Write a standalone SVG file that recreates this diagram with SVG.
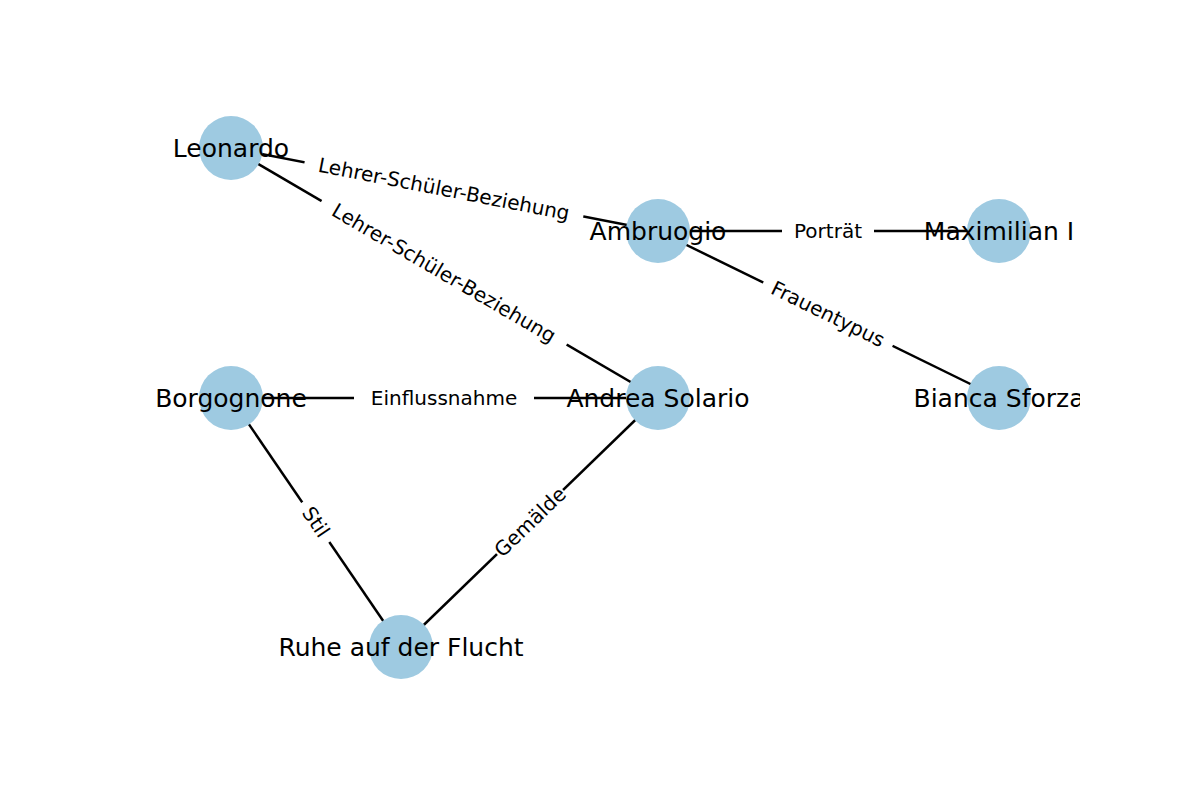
<svg xmlns="http://www.w3.org/2000/svg" width="1200" height="800" viewBox="0 0 1200 800">
<style>
.e{stroke:#000;stroke-width:2.5;fill:none}
.n{fill:#9ecae1}
.nl{font-family:"DejaVu Sans",sans-serif;font-size:25px;text-anchor:middle;dominant-baseline:central;fill:#000}
.el{font-family:"DejaVu Sans",sans-serif;font-size:20px;text-anchor:middle;dominant-baseline:central;fill:#000}
.bg{fill:#fff}
</style>
<defs><clipPath id="c"><rect x="0" y="0" width="1080" height="800"/></clipPath></defs>
<rect width="1200" height="800" fill="#fff"/>
<g id="connectors">
<line class="e" x1="231" y1="148" x2="658" y2="231"/>
<line class="e" x1="231" y1="148" x2="658" y2="398"/>
<line class="e" x1="658" y1="231" x2="999" y2="231"/>
<line class="e" x1="658" y1="231" x2="999" y2="398"/>
<line class="e" x1="231" y1="398" x2="658" y2="398"/>
<line class="e" x1="231" y1="398" x2="401" y2="647"/>
<line class="e" x1="658" y1="398" x2="401" y2="647"/>
<g transform="translate(444,189) rotate(11)"><rect class="bg" x="-142" y="-14" width="284" height="28"/><text class="el">Lehrer-Schüler-Beziehung</text></g>
<g transform="translate(444,273) rotate(30.3)"><rect class="bg" x="-142" y="-14" width="284" height="28"/><text class="el">Lehrer-Schüler-Beziehung</text></g>
<g transform="translate(828,231)"><rect class="bg" x="-46" y="-14" width="92" height="28"/><text class="el">Porträt</text></g>
<g transform="translate(828,314) rotate(26.1)"><rect class="bg" x="-72" y="-14" width="144" height="28"/><text class="el">Frauentypus</text></g>
<g transform="translate(444,398)"><rect class="bg" x="-90" y="-14" width="180" height="28"/><text class="el">Einflussnahme</text></g>
<g transform="translate(316,522) rotate(55.7)"><rect class="bg" x="-24" y="-14" width="48" height="28"/><text class="el">Stil</text></g>
<g transform="translate(530,522) rotate(-44)"><rect class="bg" x="-46" y="-14" width="92" height="28"/><text class="el">Gemälde</text></g>
</g>
<g clip-path="url(#c)">
<g id="leonardo"><circle class="n" cx="231" cy="148" r="32"/><text class="nl" x="231" y="148">Leonardo</text></g>
<g id="ambruogio"><circle class="n" cx="658" cy="231" r="32"/><text class="nl" x="658" y="231">Ambruogio</text></g>
<g id="maximilian"><circle class="n" cx="999" cy="231" r="32"/><text class="nl" x="999" y="231">Maximilian I</text></g>
<g id="borgognone"><circle class="n" cx="231" cy="398" r="32"/><text class="nl" x="231" y="398">Borgognone</text></g>
<g id="solario"><circle class="n" cx="658" cy="398" r="32"/><text class="nl" x="658" y="398">Andrea Solario</text></g>
<g id="bianca"><circle class="n" cx="999" cy="398" r="32"/><text class="nl" x="999" y="398">Bianca Sforza</text></g>
<g id="ruhe"><circle class="n" cx="401" cy="647" r="32"/><text class="nl" x="401" y="647">Ruhe auf der Flucht</text></g>
</g>
</svg>
